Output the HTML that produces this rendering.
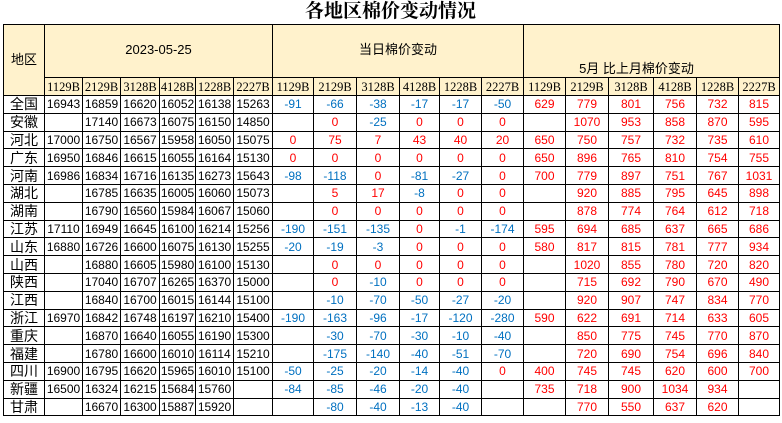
<!DOCTYPE html>
<html><head><meta charset="utf-8"><style>
body{margin:0;width:782px;height:423px;background:#fff;overflow:hidden;position:relative;font-family:"Liberation Sans","Noto Sans CJK SC",sans-serif;}
.title{position:absolute;left:0;top:0;width:782px;text-align:center;font:bold 19px "Liberation Serif","Noto Serif CJK SC",serif;line-height:24px;padding-left:0;}
.title span{position:absolute;left:305px;top:0;}
table{position:absolute;left:3px;top:24px;border-collapse:collapse;table-layout:fixed;}
td{border:1.5px solid #000;padding:0;text-align:center;font-size:12px;height:16.8px;line-height:16px;white-space:nowrap;overflow:hidden;}
tr.h1 td{height:50px;background:#fff2cc;font-size:13px;}
tr.h2 td{height:17px;background:#fff2cc;font-family:"Liberation Serif",serif;font-size:12.5px;}
td.n{font-size:14px;font-family:"Liberation Sans","Noto Sans CJK SC",sans-serif;}
.r{color:#ff0000}.b{color:#0070c0}
</style></head><body>
<div class="title"><span>各地区棉价变动情况</span></div>
<table>
<colgroup><col style="width:41px"><col style="width:38px"><col style="width:38px"><col style="width:39px"><col style="width:36px"><col style="width:38px"><col style="width:39px"><col style="width:41px"><col style="width:43px"><col style="width:43px"><col style="width:40px"><col style="width:42px"><col style="width:42px"><col style="width:42px"><col style="width:43px"><col style="width:45px"><col style="width:43px"><col style="width:42px"><col style="width:41px"></colgroup>
<tr class="h1"><td rowspan="2" class="n">地区</td><td colspan="6" style="vertical-align:middle;padding-bottom:2px">2023-05-25</td><td colspan="6" style="vertical-align:middle;padding-bottom:2px">当日棉价变动</td><td colspan="6" style="vertical-align:bottom;padding-right:30px">5月 比上月棉价变动</td></tr>
<tr class="h2"><td>1129B</td><td>2129B</td><td>3128B</td><td>4128B</td><td>1228B</td><td>2227B</td><td>1129B</td><td>2129B</td><td>3128B</td><td>4128B</td><td>1228B</td><td>2227B</td><td>1129B</td><td>2129B</td><td>3128B</td><td>4128B</td><td>1228B</td><td>2227B</td></tr>
<tr><td class="n">全国</td><td>16943</td><td>16859</td><td>16620</td><td>16052</td><td>16138</td><td>15263</td><td class="b">-91</td><td class="b">-66</td><td class="b">-38</td><td class="b">-17</td><td class="b">-17</td><td class="b">-50</td><td class="r">629</td><td class="r">779</td><td class="r">801</td><td class="r">756</td><td class="r">732</td><td class="r">815</td></tr>
<tr><td class="n">安徽</td><td></td><td>17140</td><td>16673</td><td>16075</td><td>16150</td><td>14850</td><td></td><td class="r">0</td><td class="b">-25</td><td class="r">0</td><td class="r">0</td><td class="r">0</td><td></td><td class="r">1070</td><td class="r">953</td><td class="r">858</td><td class="r">870</td><td class="r">595</td></tr>
<tr><td class="n">河北</td><td>17000</td><td>16750</td><td>16567</td><td>15958</td><td>16050</td><td>15075</td><td class="r">0</td><td class="r">75</td><td class="r">7</td><td class="r">43</td><td class="r">40</td><td class="r">20</td><td class="r">650</td><td class="r">750</td><td class="r">757</td><td class="r">732</td><td class="r">735</td><td class="r">610</td></tr>
<tr><td class="n">广东</td><td>16950</td><td>16846</td><td>16615</td><td>16055</td><td>16164</td><td>15130</td><td class="r">0</td><td class="r">0</td><td class="r">0</td><td class="r">0</td><td class="r">0</td><td class="r">0</td><td class="r">650</td><td class="r">896</td><td class="r">765</td><td class="r">810</td><td class="r">754</td><td class="r">755</td></tr>
<tr><td class="n">河南</td><td>16986</td><td>16834</td><td>16716</td><td>16135</td><td>16273</td><td>15643</td><td class="b">-98</td><td class="b">-118</td><td class="r">0</td><td class="b">-81</td><td class="b">-27</td><td class="r">0</td><td class="r">700</td><td class="r">779</td><td class="r">897</td><td class="r">751</td><td class="r">767</td><td class="r">1031</td></tr>
<tr><td class="n">湖北</td><td></td><td>16785</td><td>16635</td><td>16005</td><td>16060</td><td>15073</td><td></td><td class="r">5</td><td class="r">17</td><td class="b">-8</td><td class="r">0</td><td class="r">0</td><td></td><td class="r">920</td><td class="r">885</td><td class="r">795</td><td class="r">645</td><td class="r">898</td></tr>
<tr><td class="n">湖南</td><td></td><td>16790</td><td>16560</td><td>15984</td><td>16067</td><td>15060</td><td></td><td class="r">0</td><td class="r">0</td><td class="r">0</td><td class="r">0</td><td class="r">0</td><td></td><td class="r">878</td><td class="r">774</td><td class="r">764</td><td class="r">612</td><td class="r">718</td></tr>
<tr><td class="n">江苏</td><td>17110</td><td>16949</td><td>16645</td><td>16100</td><td>16214</td><td>15256</td><td class="b">-190</td><td class="b">-151</td><td class="b">-135</td><td class="r">0</td><td class="b">-1</td><td class="b">-174</td><td class="r">595</td><td class="r">694</td><td class="r">685</td><td class="r">637</td><td class="r">665</td><td class="r">686</td></tr>
<tr><td class="n">山东</td><td>16880</td><td>16726</td><td>16600</td><td>16075</td><td>16130</td><td>15255</td><td class="b">-20</td><td class="b">-19</td><td class="b">-3</td><td class="r">0</td><td class="r">0</td><td class="r">0</td><td class="r">580</td><td class="r">817</td><td class="r">815</td><td class="r">781</td><td class="r">777</td><td class="r">934</td></tr>
<tr><td class="n">山西</td><td></td><td>16880</td><td>16605</td><td>15980</td><td>16100</td><td>15130</td><td></td><td class="r">0</td><td class="r">0</td><td class="r">0</td><td class="r">0</td><td class="r">0</td><td></td><td class="r">1020</td><td class="r">855</td><td class="r">780</td><td class="r">720</td><td class="r">820</td></tr>
<tr><td class="n">陕西</td><td></td><td>17040</td><td>16707</td><td>16265</td><td>16370</td><td>15000</td><td></td><td class="r">0</td><td class="b">-10</td><td class="r">0</td><td class="r">0</td><td class="r">0</td><td></td><td class="r">715</td><td class="r">692</td><td class="r">790</td><td class="r">670</td><td class="r">490</td></tr>
<tr><td class="n">江西</td><td></td><td>16840</td><td>16700</td><td>16015</td><td>16144</td><td>15100</td><td></td><td class="b">-10</td><td class="b">-70</td><td class="b">-50</td><td class="b">-27</td><td class="b">-20</td><td></td><td class="r">920</td><td class="r">907</td><td class="r">747</td><td class="r">834</td><td class="r">770</td></tr>
<tr><td class="n">浙江</td><td>16970</td><td>16842</td><td>16748</td><td>16197</td><td>16210</td><td>15400</td><td class="b">-190</td><td class="b">-163</td><td class="b">-96</td><td class="b">-17</td><td class="b">-120</td><td class="b">-280</td><td class="r">590</td><td class="r">622</td><td class="r">691</td><td class="r">714</td><td class="r">633</td><td class="r">605</td></tr>
<tr><td class="n">重庆</td><td></td><td>16870</td><td>16640</td><td>16055</td><td>16190</td><td>15300</td><td></td><td class="b">-30</td><td class="b">-70</td><td class="b">-30</td><td class="b">-10</td><td class="b">-40</td><td></td><td class="r">850</td><td class="r">775</td><td class="r">745</td><td class="r">770</td><td class="r">870</td></tr>
<tr><td class="n">福建</td><td></td><td>16780</td><td>16600</td><td>16010</td><td>16114</td><td>15210</td><td></td><td class="b">-175</td><td class="b">-140</td><td class="b">-40</td><td class="b">-51</td><td class="b">-70</td><td></td><td class="r">720</td><td class="r">690</td><td class="r">754</td><td class="r">696</td><td class="r">840</td></tr>
<tr><td class="n">四川</td><td>16900</td><td>16795</td><td>16620</td><td>15965</td><td>16010</td><td>15100</td><td class="b">-50</td><td class="b">-25</td><td class="b">-20</td><td class="b">-14</td><td class="b">-40</td><td class="r">0</td><td class="r">400</td><td class="r">745</td><td class="r">745</td><td class="r">620</td><td class="r">600</td><td class="r">700</td></tr>
<tr><td class="n">新疆</td><td>16500</td><td>16324</td><td>16215</td><td>15684</td><td>15760</td><td></td><td class="b">-84</td><td class="b">-85</td><td class="b">-46</td><td class="b">-20</td><td class="b">-40</td><td></td><td class="r">735</td><td class="r">718</td><td class="r">900</td><td class="r">1034</td><td class="r">934</td><td></td></tr>
<tr><td class="n">甘肃</td><td></td><td>16670</td><td>16300</td><td>15887</td><td>15920</td><td></td><td></td><td class="b">-80</td><td class="b">-40</td><td class="b">-13</td><td class="b">-40</td><td></td><td></td><td class="r">770</td><td class="r">550</td><td class="r">637</td><td class="r">620</td><td></td></tr>
</table>
</body></html>
